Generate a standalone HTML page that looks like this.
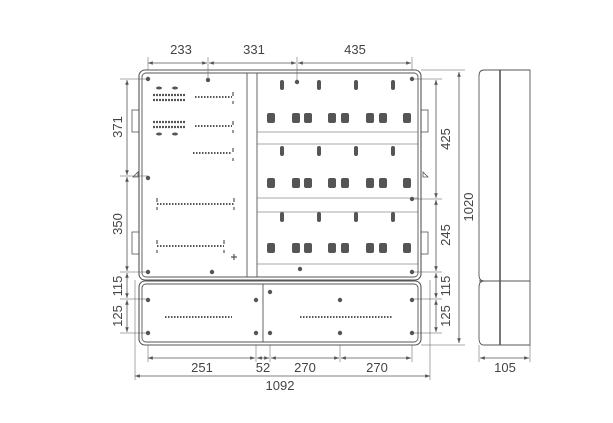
<!DOCTYPE html><html><head><style>body{margin:0;background:#fff}svg{display:block}text{font-family:"Liberation Sans",sans-serif;font-size:13px;fill:#444}</style></head><body>
<svg width="613" height="423" viewBox="0 0 613 423" stroke="#555" fill="none" stroke-width="0.9">
<defs><marker id="a" viewBox="0 0 8 8" refX="8" refY="4" markerWidth="6" markerHeight="6" orient="auto-start-reverse"><path d="M0 1L8 4L0 7z" fill="#555" stroke="none"/></marker></defs>
<rect x="139" y="70" width="282" height="210" rx="6" stroke-width="1.1"/><rect x="142" y="73" width="276" height="204" rx="4"/>
<rect x="139" y="281" width="282" height="64" rx="6" stroke-width="1.1"/><rect x="142" y="284" width="276" height="58" rx="4"/>
<line x1="247" y1="73" x2="247" y2="277"/><line x1="257" y1="73" x2="257" y2="277"/>
<line x1="263" y1="284" x2="263" y2="342"/>
<g stroke-width="0.6"><line x1="257" y1="132" x2="418" y2="132"/><line x1="257" y1="144" x2="418" y2="144"/><line x1="257" y1="198" x2="418" y2="198"/><line x1="257" y1="212" x2="418" y2="212"/><line x1="257" y1="264" x2="418" y2="264"/></g>
<path d="M484 70H530V345H484Q479 345 479 338V287Q479 281 484 281Q479 281 479 275V76Q479 70 484 70Z"/>
<line x1="500" y1="70" x2="500" y2="345" stroke-width="1.6"/><line x1="479" y1="281" x2="530" y2="281"/>
<g stroke-width="0.8"><rect x="132" y="110" width="7" height="22"/><rect x="132" y="232" width="7" height="22"/><rect x="421" y="110" width="7" height="22"/><rect x="421" y="232" width="7" height="22"/><path d="M133 177L138 172V177Z"/><path d="M423 172L428 177H423Z"/></g>
<g fill="#555" stroke="none">
<g id="r"><rect x="267" y="113" width="8" height="10" rx="2"/><rect x="292" y="113" width="8" height="10" rx="2"/><rect x="304" y="113" width="8" height="10" rx="2"/><rect x="328" y="113" width="8" height="10" rx="2"/><rect x="341" y="113" width="8" height="10" rx="2"/><rect x="366" y="113" width="8" height="10" rx="2"/><rect x="379" y="113" width="8" height="10" rx="2"/><rect x="403" y="113" width="8" height="10" rx="2"/></g>
<use href="#r" y="65"/><use href="#r" y="130"/>
<g id="s"><rect x="280" y="80" width="4" height="10" rx="2"/><rect x="317" y="80" width="4" height="10" rx="2"/><rect x="354" y="80" width="4" height="10" rx="2"/><rect x="391" y="80" width="4" height="10" rx="2"/></g>
<use href="#s" y="66"/><use href="#s" y="132"/>
<circle cx="148" cy="79" r="2.2"/><circle cx="208" cy="80" r="2.2"/><circle cx="297" cy="82" r="2.2"/><circle cx="412" cy="79" r="2.2"/><circle cx="148" cy="178" r="2.2"/><circle cx="412" cy="199" r="2.2"/><circle cx="148" cy="272" r="2.2"/><circle cx="212" cy="272" r="2.2"/><circle cx="300" cy="269" r="2.2"/><circle cx="412" cy="272" r="2.2"/>
<circle cx="148" cy="300" r="2.2"/><circle cx="256" cy="300" r="2.2"/><circle cx="270" cy="292" r="2.2"/><circle cx="340" cy="300" r="2.2"/><circle cx="412" cy="300" r="2.2"/><circle cx="148" cy="333" r="2.2"/><circle cx="256" cy="333" r="2.2"/><circle cx="270" cy="333" r="2.2"/><circle cx="340" cy="333" r="2.2"/><circle cx="412" cy="333" r="2.2"/>
<ellipse cx="159" cy="88" rx="3" ry="1.5"/><ellipse cx="175" cy="88" rx="3" ry="1.5"/><ellipse cx="159" cy="134" rx="3" ry="1.5"/><ellipse cx="175" cy="134" rx="3" ry="1.5"/>
</g>
<g stroke-dasharray="2 1" stroke-width="2.2" stroke="#555"><line x1="153" y1="95" x2="185" y2="95"/><line x1="153" y1="100" x2="185" y2="100"/><line x1="153" y1="122" x2="185" y2="122"/><line x1="153" y1="127" x2="185" y2="127"/></g>
<g stroke-dasharray="1.5 1.5" stroke-width="2"><line x1="195" y1="97" x2="232" y2="97"/><line x1="195" y1="126" x2="232" y2="126"/><line x1="193" y1="153" x2="232" y2="153"/><line x1="157" y1="204" x2="234" y2="204"/><line x1="157" y1="246" x2="224" y2="246"/><line x1="165" y1="317" x2="232" y2="317"/><line x1="300" y1="317" x2="393" y2="317"/></g>
<g stroke-width="1.2"><path d="M233 92V96M233 101V104M233 121V125M233 130V133M233 148V152M233 158V161M157 198V202M157 207V210M234 198V202M234 207V210M157 240V244M157 250V253M224 240V244M224 250V253M231 257H237M234 254V260"/></g>
<g marker-start="url(#a)" marker-end="url(#a)" stroke-width="0.8">
<line x1="148" y1="63" x2="207" y2="63"/><line x1="209" y1="63" x2="296" y2="63"/><line x1="298" y1="63" x2="411" y2="63"/>
<line x1="127" y1="80" x2="127" y2="175"/><line x1="127" y1="177" x2="127" y2="271"/><line x1="127" y1="273" x2="127" y2="298"/><line x1="127" y1="300" x2="127" y2="332"/>
<line x1="436" y1="80" x2="436" y2="198"/><line x1="436" y1="200" x2="436" y2="271"/><line x1="436" y1="273" x2="436" y2="298"/><line x1="436" y1="300" x2="436" y2="332"/>
<line x1="459" y1="72" x2="459" y2="343"/>
<line x1="148" y1="358" x2="255" y2="358"/><line x1="257" y1="358" x2="269" y2="358"/><line x1="271" y1="358" x2="339" y2="358"/><line x1="341" y1="358" x2="411" y2="358"/>
<line x1="135" y1="376" x2="430" y2="376"/><line x1="480" y1="358" x2="529" y2="358"/>
</g>
<g stroke-width="0.5"><path d="M148 57V70M208 57V78M297 57V80M412 57V70M120 79H148M120 176H148M120 272H148M120 299H148M120 333H148M412 79H442M412 199H442M412 272H442M412 299H442M412 333H442M421 70H465M421 345H465M148 345V362M256 345V362M270 345V362M340 345V362M412 345V362M135 280V380M430 280V380M479 345V362M530 345V362"/></g>
<g stroke="none">
<text x="181" y="54" text-anchor="middle">233</text><text x="254" y="54" text-anchor="middle">331</text><text x="355" y="54" text-anchor="middle">435</text>
<text transform="translate(122,127) rotate(-90)" text-anchor="middle">371</text><text transform="translate(122,224) rotate(-90)" text-anchor="middle">350</text><text transform="translate(122,286) rotate(-90)" text-anchor="middle">115</text><text transform="translate(122,316) rotate(-90)" text-anchor="middle">125</text>
<text transform="translate(450,139) rotate(-90)" text-anchor="middle">425</text><text transform="translate(450,235) rotate(-90)" text-anchor="middle">245</text><text transform="translate(450,286) rotate(-90)" text-anchor="middle">115</text><text transform="translate(450,316) rotate(-90)" text-anchor="middle">125</text>
<text transform="translate(473,207) rotate(-90)" text-anchor="middle">1020</text>
<text x="202" y="372" text-anchor="middle">251</text><text x="263" y="372" text-anchor="middle">52</text><text x="305" y="372" text-anchor="middle">270</text><text x="377" y="372" text-anchor="middle">270</text>
<text x="280" y="390" text-anchor="middle">1092</text><text x="505" y="372" text-anchor="middle">105</text>
</g>
</svg></body></html>
